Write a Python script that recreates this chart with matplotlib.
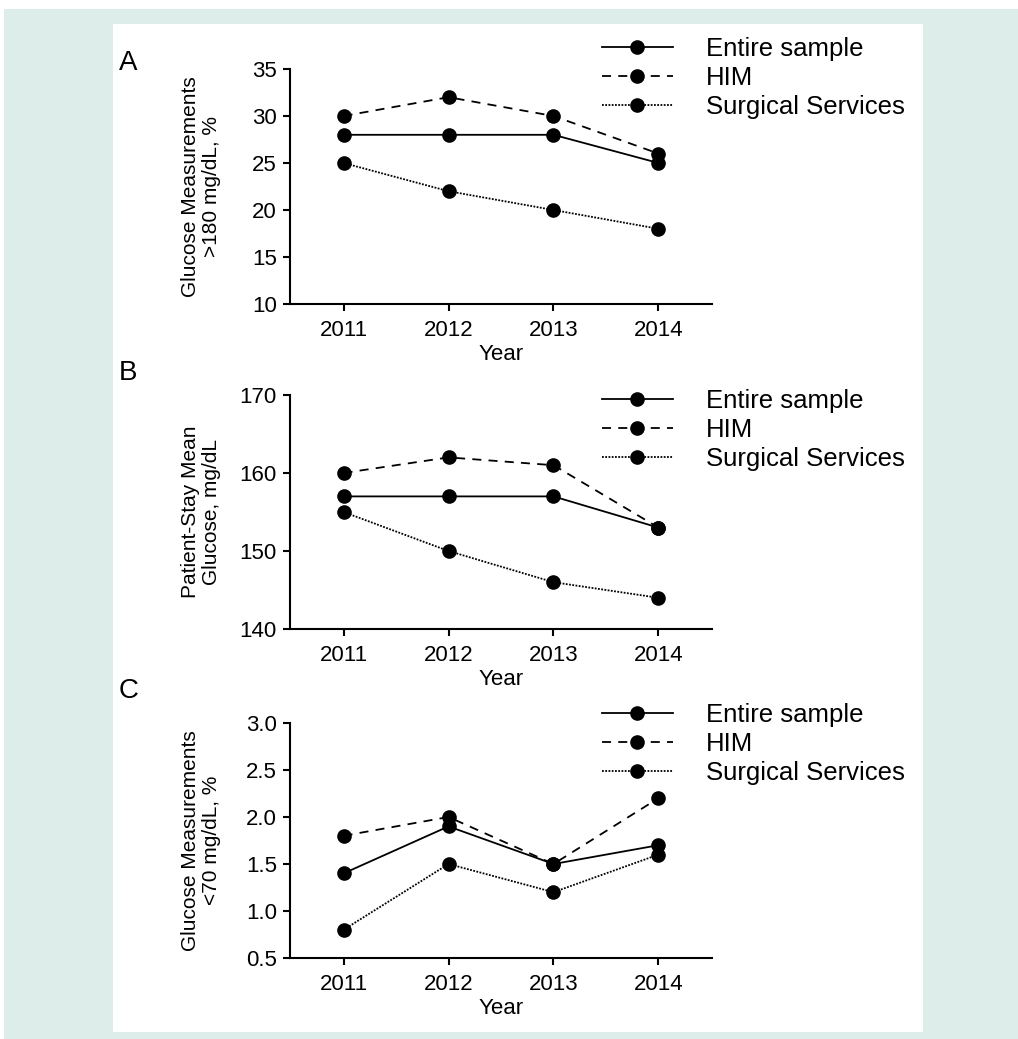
import matplotlib
matplotlib.use("Agg")
import matplotlib.pyplot as plt
from matplotlib.patches import Rectangle

plt.rcParams["font.family"] = ["Liberation Sans", "DejaVu Sans"]

W, H = 1018, 1039

years = [2011, 2012, 2013, 2014]
series_names = ["Entire sample", "HIM", "Surgical Services"]

# panel A: glucose measurements >180 mg/dL, %
a_entire = [28, 28, 28, 25]
a_him = [30, 32, 30, 26]
a_surg = [25, 22, 20, 18]

# panel B: patient-stay mean glucose, mg/dL
b_entire = [157, 157, 157, 153]
b_him = [160, 162, 161, 153]
b_surg = [155, 150, 146, 144]

# panel C: glucose measurements <70 mg/dL, %
c_entire = [1.4, 1.9, 1.5, 1.7]
c_him = [1.8, 2.0, 1.5, 2.2]
c_surg = [0.8, 1.5, 1.2, 1.6]

a_ticks = [10, 15, 20, 25, 30, 35]
b_ticks = [140, 150, 160, 170]
c_ticks = [0.5, 1.0, 1.5, 2.0, 2.5, 3.0]


def fx(px):
    return px / W


def fy(px):
    return 1 - px / H


fig = plt.figure(figsize=(W / 100, H / 100), dpi=100)
fig.patch.set_facecolor("white")
fig.patches.append(Rectangle((fx(4), 0), 1 - fx(4), fy(9), transform=fig.transFigure,
                             facecolor="#dcedea", edgecolor="none", zorder=-10))
fig.patches.append(Rectangle((fx(113), fy(1032)), fx(923) - fx(113), fy(24) - fy(1032),
                             transform=fig.transFigure, facecolor="white",
                             edgecolor="none", zorder=-9))

styles = ["-", (0, (5, 4)), (0, (1, 0.8))]

panels = [
    ("A", 304, 69, a_entire, a_him, a_surg, a_ticks, "%d",
     "Glucose Measurements\n>180 mg/dL, %", 63, 37),
    ("B", 629, 395, b_entire, b_him, b_surg, b_ticks, "%d",
     "Patient-Stay Mean\nGlucose, mg/dL", 373, 389),
    ("C", 958, 723, c_entire, c_him, c_surg, c_ticks, "%.1f",
     "Glucose Measurements\n<70 mg/dL, %", 691, 703),
]

for letter, bot, top, ent, him, surg, ticks, fmt, ylab, ly, legtop in panels:
    ax = fig.add_axes([fx(290), fy(bot), fx(712) - fx(290), fy(top) - fy(bot)])
    ax.set_facecolor("none")
    for vals, ls, name in zip([ent, him, surg], styles, series_names):
        ax.plot(years, vals, linestyle=ls, color="black", lw=1.3, marker="o",
                markersize=9.5, label=name, clip_on=False)
    ax.set_xlim(2010.49, 2014.51)
    ax.set_ylim(ticks[0], ticks[-1])
    ax.set_xticks(years)
    ax.set_yticks(ticks)
    ax.set_yticklabels([fmt % t for t in ticks])
    for s in ["top", "right"]:
        ax.spines[s].set_visible(False)
    for s in ["left", "bottom"]:
        ax.spines[s].set_linewidth(1.5)
    ax.tick_params(direction="out", length=5, width=1.5, labelsize=16, pad=4.5)
    ax.tick_params(axis="x", pad=6.5)
    ax.set_xlabel("Year", fontsize=16, labelpad=2)
    ax.text(fx(201 - 290) / (fx(712) - fx(290)), 0.5, ylab, transform=ax.transAxes,
            rotation=90, ha="center", va="center", multialignment="center",
            fontsize=15, linespacing=1.1)
    ax.legend(loc="upper left", bbox_to_anchor=(fx(602), fy(legtop)),
              bbox_transform=fig.transFigure, frameon=False, fontsize=18.5,
              borderpad=0, borderaxespad=0, handlelength=2.75,
              handletextpad=1.3, labelspacing=0.2)
    fig.text(fx(119), fy(ly), letter, fontsize=20, ha="left", va="center")

fig.savefig("out.png", dpi=100)
